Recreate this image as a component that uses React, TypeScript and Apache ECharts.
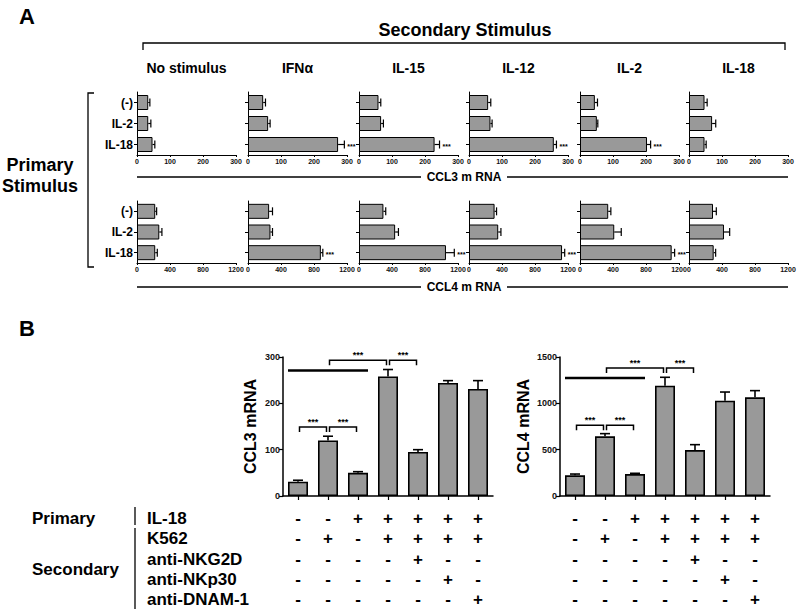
import React, { useEffect, useRef } from "react";
import * as echarts from "echarts";

const FONT = '"Liberation Sans", Arial, Helvetica, sans-serif';

// ---------- Panel A data ----------
const rowLabels = ["(-)", "IL-2", "IL-18"];
const secondaryStimuli = ["No stimulus", "IFN\u03b1", "IL-15", "IL-12", "IL-2", "IL-18"];
// per secondary stimulus: values for (-), IL-2, IL-18 primary
const ccl3Mean = [[34, 34, 47], [46, 61, 273], [59, 67, 229], [58, 65, 257], [45, 51, 203], [47, 70, 47]];
const ccl3Err = [[5, 8, 7], [7, 6, 19], [7, 7, 15], [8, 5, 8], [8, 3, 11], [8, 11, 5]];
const ccl3Sig = [[0, 0, 0], [0, 0, 1], [0, 0, 1], [0, 0, 1], [0, 0, 1], [0, 0, 0]];
const ccl4Mean = [[221, 270, 221], [256, 272, 883], [296, 438, 1054], [310, 354, 1128], [342, 415, 1111], [291, 424, 299]];
const ccl4Err = [[17, 32, 25], [41, 25, 24], [28, 40, 101], [24, 33, 32], [32, 85, 36], [40, 69, 24]];
const ccl4Sig = [[0, 0, 0], [0, 0, 1], [0, 0, 1], [0, 0, 1], [0, 0, 1], [0, 0, 0]];

// ---------- Panel B data ----------
const bCategories = ["c1", "c2", "c3", "c4", "c5", "c6", "c7"];
const ccl3B = [31, 120, 50, 258, 95, 244, 231];
const ccl3BErr = [3, 9, 2.5, 15, 5, 5, 18];
const ccl4B = [223, 644, 237, 1191, 496, 1029, 1065];
const ccl4BErr = [14, 29, 8, 90, 58, 93, 72];
// brackets: [fromCategory, toCategory, yValue]
const ccl3Brackets = [[0, 1, 149], [1, 2, 149], [1, 3, 293], [3, 4, 293]];
const ccl4Brackets = [[0, 1, 763], [1, 2, 763], [1, 3, 1381], [3, 4, 1381]];
const ccl3Span = [[0, 2, 271]];
const ccl4Span = [[0, 2, 1273]];

// ---------- Table ----------
const tableRowLabels = ["IL-18", "K562", "anti-NKG2D", "anti-NKp30", "anti-DNAM-1"];
const il18Signs = ["-", "-", "+", "+", "+", "+", "+"];
const k562Signs = ["-", "+", "-", "+", "+", "+", "+"];
const nkg2dSigns = ["-", "-", "-", "-", "+", "-", "-"];
const nkp30Signs = ["-", "-", "-", "-", "-", "+", "-"];
const dnam1Signs = ["-", "-", "-", "-", "-", "-", "+"];
const signRows = [il18Signs, k562Signs, nkg2dSigns, nkp30Signs, dnam1Signs];

// ---------- layout ----------
const aLefts = [137, 248, 359, 469, 580, 689];
const aWidth = 99;
const tableRowY = [518, 538, 559, 579, 599];

const black = "#000";
const barGray = "#999999";
const plain = (v: number) => String(v);

function hErr(params: any, api: any) {
  const cat = api.value(0);
  const v = api.value(1);
  const e = api.value(2);
  const s = api.value(3);
  const p0 = api.coord([v, cat]);
  const p1 = api.coord([v + e, cat]);
  const children: any[] = [
    { type: "line", shape: { x1: p0[0], y1: p0[1], x2: p1[0], y2: p1[1] }, style: { stroke: black, lineWidth: 1.2 } },
    { type: "line", shape: { x1: p1[0], y1: p1[1] - 4, x2: p1[0], y2: p1[1] + 4 }, style: { stroke: black, lineWidth: 1.2 } },
  ];
  if (s) {
    children.push({
      type: "text",
      x: p1[0] + 3,
      y: p1[1] + 2,
      style: { text: "***", font: `bold 7px ${FONT}`, fill: black, align: "left", verticalAlign: "middle" },
    });
  }
  return { type: "group", children };
}

function vErr(params: any, api: any) {
  const cat = api.value(0);
  const v = api.value(1);
  const e = api.value(2);
  const p0 = api.coord([cat, v]);
  const p1 = api.coord([cat, v + e]);
  return {
    type: "group",
    children: [
      { type: "line", shape: { x1: p0[0], y1: p0[1], x2: p1[0], y2: p1[1] }, style: { stroke: black, lineWidth: 1.6 } },
      { type: "line", shape: { x1: p1[0] - 5, y1: p1[1], x2: p1[0] + 5, y2: p1[1] }, style: { stroke: black, lineWidth: 1.6 } },
    ],
  };
}

function bracket(params: any, api: any) {
  const a = api.coord([api.value(0), api.value(2)]);
  const b = api.coord([api.value(1), api.value(2)]);
  const x1 = a[0] + 1.5;
  const x2 = b[0] - 1.5;
  const y = a[1];
  return {
    type: "group",
    children: [
      { type: "polyline", shape: { points: [[x1, y + 5], [x1, y], [x2, y], [x2, y + 5]] }, style: { stroke: black, lineWidth: 1.5, fill: "none" } },
      {
        type: "text",
        x: (x1 + x2) / 2,
        y: y - 5,
        style: { text: "***", font: `bold 9px ${FONT}`, fill: black, align: "center", verticalAlign: "middle" },
      },
    ],
  };
}

function span(params: any, api: any) {
  const a = api.coord([api.value(0), api.value(2)]);
  const b = api.coord([api.value(1), api.value(2)]);
  const half = api.size([1, 0])[0] / 3;
  return {
    type: "line",
    shape: { x1: a[0] - half, y1: a[1], x2: b[0] + half, y2: b[1] },
    style: { stroke: black, lineWidth: 2.6 },
  };
}

function signCell(params: any, api: any) {
  const col = api.value(0);
  const row = api.value(1);
  const x = api.coord([col, 0])[0];
  return {
    type: "text",
    x,
    y: tableRowY[row],
    style: { text: signRows[row][col], font: `bold 17px ${FONT}`, fill: black, align: "center", verticalAlign: "middle" },
  };
}

function buildOption() {
  const grid: any[] = [];
  const xAxis: any[] = [];
  const yAxis: any[] = [];
  const series: any[] = [];

  const rowsA = [
    { top: 92, height: 63, max: 300, interval: 100, mean: ccl3Mean, err: ccl3Err, sig: ccl3Sig },
    { top: 201, height: 62, max: 1200, interval: 400, mean: ccl4Mean, err: ccl4Err, sig: ccl4Sig },
  ];
  rowsA.forEach((r) => {
    secondaryStimuli.forEach((_, c) => {
      const g = grid.length;
      grid.push({ left: aLefts[c], top: r.top, width: aWidth, height: r.height });
      xAxis.push({
        type: "value",
        gridIndex: g,
        min: 0,
        max: r.max,
        interval: r.interval,
        axisLine: { show: true, lineStyle: { color: black, width: 1 } },
        axisTick: { show: true, length: 2, lineStyle: { color: black, width: 1 } },
        axisLabel: { fontSize: 7, fontWeight: "bold", color: "#111", margin: 3, fontFamily: FONT, formatter: plain },
        splitLine: { show: false },
      });
      yAxis.push({
        type: "category",
        gridIndex: g,
        data: rowLabels,
        inverse: true,
        axisLine: { show: true, lineStyle: { color: black, width: 1 } },
        axisTick: { show: true, length: 3, alignWithLabel: true, lineStyle: { color: black, width: 1 } },
        axisLabel: { show: c === 0, fontSize: 12, fontWeight: "bold", color: black, margin: 4, fontFamily: FONT },
      });
      series.push({
        type: "bar",
        xAxisIndex: g,
        yAxisIndex: g,
        data: r.mean[c],
        barWidth: 15,
        itemStyle: { color: barGray, borderColor: black, borderWidth: 1 },
      });
      series.push({
        type: "custom",
        xAxisIndex: g,
        yAxisIndex: g,
        renderItem: hErr,
        encode: { x: 1, y: 0 },
        data: r.mean[c].map((v, i) => [i, v, r.err[c][i], r.sig[c][i]]),
        z: 5,
      });
    });
  });

  const panelsB = [
    { left: 283, max: 300, interval: 100, name: "CCL3 mRNA", nameGap: 25, mean: ccl3B, err: ccl3BErr, br: ccl3Brackets, sp: ccl3Span },
    { left: 560, max: 1500, interval: 500, name: "CCL4 mRNA", nameGap: 29, mean: ccl4B, err: ccl4BErr, br: ccl4Brackets, sp: ccl4Span },
  ];
  panelsB.forEach((p) => {
    const g = grid.length;
    grid.push({ left: p.left, top: 357, width: 210, height: 139 });
    xAxis.push({
      type: "category",
      gridIndex: g,
      data: bCategories,
      axisLine: { show: true, lineStyle: { color: black, width: 1.5 } },
      axisTick: { show: true, length: 4, alignWithLabel: true, lineStyle: { color: black, width: 1.2 } },
      axisLabel: { show: false },
    });
    yAxis.push({
      type: "value",
      gridIndex: g,
      min: 0,
      max: p.max,
      interval: p.interval,
      name: p.name,
      nameLocation: "middle",
      nameGap: p.nameGap,
      nameRotate: 90,
      nameTextStyle: { fontSize: 16, fontWeight: "bold", color: black, fontFamily: FONT },
      axisLine: { show: true, lineStyle: { color: black, width: 1.5 } },
      axisTick: { show: true, length: 4, lineStyle: { color: black, width: 1.2 } },
      axisLabel: { fontSize: 9, fontWeight: "bold", color: "#111", margin: 3, fontFamily: FONT, formatter: plain },
      splitLine: { show: false },
    });
    series.push({
      type: "bar",
      xAxisIndex: g,
      yAxisIndex: g,
      data: p.mean,
      barWidth: 20,
      itemStyle: { color: barGray, borderColor: black, borderWidth: 1.6 },
    });
    series.push({
      type: "custom",
      xAxisIndex: g,
      yAxisIndex: g,
      renderItem: vErr,
      encode: { x: 0, y: 1 },
      data: p.mean.map((v, i) => [i, v, p.err[i]]),
      z: 5,
    });
    series.push({
      type: "custom",
      xAxisIndex: g,
      yAxisIndex: g,
      renderItem: bracket,
      encode: { x: 0, y: 2 },
      data: p.br,
      z: 6,
    });
    series.push({
      type: "custom",
      xAxisIndex: g,
      yAxisIndex: g,
      renderItem: span,
      encode: { x: 0, y: 2 },
      data: p.sp,
      z: 6,
    });
    const cells: number[][] = [];
    signRows.forEach((row, ri) => row.forEach((_, ci) => cells.push([ci, ri])));
    series.push({
      type: "custom",
      xAxisIndex: g,
      yAxisIndex: g,
      renderItem: signCell,
      encode: { x: 0, y: 1 },
      data: cells,
      clip: false,
      z: 6,
    });
  });

  const txt = (text: string, x: number, y: number, size: number, align = "center") => ({
    type: "text",
    x,
    y,
    style: { text, font: `bold ${size}px ${FONT}`, fill: black, align, verticalAlign: "middle" },
  });
  const ln = (x1: number, y1: number, x2: number, y2: number, w = 1.3) => ({
    type: "line",
    shape: { x1, y1, x2, y2 },
    style: { stroke: black, lineWidth: w },
  });

  const graphic: any[] = [
    txt("A", 19, 16, 22, "left"),
    txt("Secondary Stimulus", 465, 30, 18),
    { type: "polyline", shape: { points: [[143, 50], [143, 43], [785, 43], [785, 50]] }, style: { stroke: black, lineWidth: 1.3, fill: "none" } },
    ...secondaryStimuli.map((s, i) => txt(s, aLefts[i] + aWidth / 2, 68, 14)),
    txt("Primary", 40, 165, 18),
    txt("Stimulus", 40, 186, 18),
    { type: "polyline", shape: { points: [[94, 93], [88, 93], [88, 267], [94, 267]] }, style: { stroke: black, lineWidth: 1.3, fill: "none" } },
    ln(137, 177, 421, 177, 1.4),
    txt("CCL3 m RNA", 464, 177, 12),
    ln(507, 177, 788, 177, 1.4),
    ln(137, 287, 421, 287, 1.4),
    txt("CCL4 m RNA", 464, 287, 12),
    ln(507, 287, 788, 287, 1.4),
    txt("B", 19, 328, 22, "left"),
    txt("Primary", 32, 518, 17, "left"),
    txt("Secondary", 32, 569, 17, "left"),
    ln(135, 507, 135, 525, 1.3),
    ln(135, 528, 135, 609, 1.3),
    ...tableRowLabels.map((s, i) => txt(s, 147, tableRowY[i], 17, "left")),
  ];

  return {
    animation: false,
    backgroundColor: "#fff",
    textStyle: { fontFamily: FONT },
    grid,
    xAxis,
    yAxis,
    series,
    graphic,
  };
}

export default function App() {
  const ref = useRef<HTMLDivElement>(null);
  useEffect(() => {
    if (!ref.current) return;
    const chart = echarts.init(ref.current, undefined, { renderer: "svg" });
    chart.setOption(buildOption() as any);
    return () => chart.dispose();
  }, []);
  return (
    <div
      ref={ref}
      style={{ position: "absolute", left: 0, top: 0, width: 800, height: 614, background: "#fff" }}
    />
  );
}
